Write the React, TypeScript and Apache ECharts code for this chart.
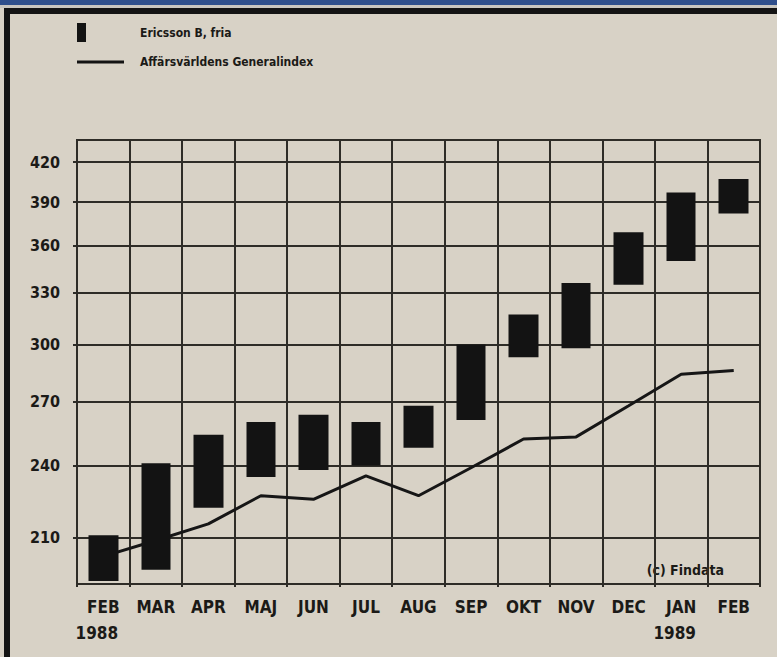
import React, { useEffect, useRef } from "react";
import * as echarts from "echarts";

const months = ["FEB", "MAR", "APR", "MAJ", "JUN", "JUL", "AUG", "SEP", "OKT", "NOV", "DEC", "JAN", "FEB"];
const yearMarks = ["1988", "", "", "", "", "", "", "", "", "", "", "1989", ""];
const categories = months.map((m, i) => m + "-" + i);
const ericssonLow = [194, 198, 222, 235, 238, 240, 248, 261, 293, 298, 335, 350, 382];
const ericssonHigh = [211, 241, 254, 260, 263.5, 260, 268, 300, 317, 336, 369, 397, 407];
const generalIndex = [203, 209, 215.5, 227, 225.5, 235.5, 227, 239, 252, 253, 268, 284, 286];
const yTicks = [210, 240, 270, 300, 330, 360, 390, 420];
const seriesNames = ["Ericsson B, fria", "Affärsvärldens Generalindex"];
const sourceNote = "(c) Findata";

const FONT = '"Liberation Sans Narrow", "DejaVu Sans Condensed", "Liberation Sans", Arial, sans-serif';
const INK = "#1b1a17";
const GRIDC = "#2e2c27";
const PAPER = "#d8d2c6";

export default function App() {
  const ref = useRef<HTMLDivElement>(null);
  useEffect(() => {
    if (!ref.current) return;
    const chart = echarts.init(ref.current, null, { renderer: "svg" });
    chart.setOption({
      animation: false,
      backgroundColor: PAPER,
      grid: {
        left: 77,
        top: 140,
        right: 17,
        bottom: 73,
        show: true,
        borderColor: GRIDC,
        borderWidth: 2,
        backgroundColor: "transparent",
      },
      legend: [
        {
          left: 77,
          top: 23,
          padding: 0,
          itemWidth: 9,
          itemHeight: 19,
          icon: "rect",
          selectedMode: false,
          data: [{ name: seriesNames[0], itemStyle: { color: "#131313" } }],
          textStyle: { fontFamily: FONT, fontWeight: "bold", fontSize: 12, color: INK, padding: [0, 0, 0, 49] },
        },
        {
          left: 77,
          top: 56,
          padding: 0,
          itemWidth: 47,
          itemHeight: 3,
          icon: "rect",
          selectedMode: false,
          data: [{ name: seriesNames[1], itemStyle: { color: "#131313" } }],
          textStyle: { fontFamily: FONT, fontWeight: "bold", fontSize: 12, color: INK, padding: [0, 0, 0, 11] },
        },
      ],
      xAxis: {
        type: "category",
        data: categories,
        boundaryGap: true,
        axisLine: { show: true, lineStyle: { color: GRIDC, width: 2 } },
        axisTick: { show: true, length: 3, lineStyle: { color: GRIDC, width: 2 } },
        splitLine: { show: true, interval: 0, lineStyle: { color: GRIDC, width: 2 } },
        axisLabel: {
          interval: 0,
          margin: 10,
          formatter: (_v: string, i: number) =>
            yearMarks[i] ? "{m|" + months[i] + "}\n{y|" + yearMarks[i] + "}" : "{m|" + months[i] + "}",
          rich: {
            m: { fontFamily: FONT, fontWeight: "bold", fontSize: 17, color: INK, lineHeight: 26 },
            y: { fontFamily: FONT, fontWeight: "bold", fontSize: 17, color: INK, lineHeight: 26, padding: [0, 13, 0, 0] },
          },
        },
      },
      yAxis: {
        type: "log",
        logBase: 10,
        min: 192.9,
        max: 437.4,
        axisLine: { show: true, lineStyle: { color: GRIDC, width: 2 } },
        axisTick: { show: true, length: 4, customValues: yTicks, lineStyle: { color: GRIDC, width: 2 } },
        splitLine: { show: true, lineStyle: { color: GRIDC, width: 2 } },
        axisLabel: {
          customValues: yTicks,
          margin: 17,
          fontFamily: FONT,
          fontWeight: "bold",
          fontSize: 16,
          color: INK,
          verticalAlign: "middle",
          padding: [0, 0, 13, 0],
        },
      },
      series: [
        {
          name: seriesNames[1],
          type: "line",
          data: generalIndex,
          symbol: "none",
          z: 1,
          lineStyle: { color: "#161616", width: 3 },
          itemStyle: { color: "#161616" },
        },
        {
          name: seriesNames[0],
          type: "candlestick",
          z: 3,
          barWidth: 30,
          data: ericssonLow.map((lo, i) => [lo, ericssonHigh[i], lo, ericssonHigh[i]]),
          itemStyle: {
            color: "#131313",
            color0: "#131313",
            borderColor: "#131313",
            borderColor0: "#131313",
            borderWidth: 0,
          },
        },
      ],
      graphic: [
        { type: "rect", shape: { x: 0, y: 0, width: 777, height: 5 }, style: { fill: "#2f4f8c" } },
        { type: "rect", shape: { x: 0, y: 5, width: 777, height: 3 }, style: { fill: "#c9c6c0" } },
        { type: "rect", shape: { x: 4, y: 8, width: 773, height: 6 }, style: { fill: "#141414" } },
        { type: "rect", shape: { x: 4, y: 8, width: 6, height: 649 }, style: { fill: "#141414" } },
        {
          type: "text",
          right: 53,
          top: 563,
          style: { text: sourceNote, fontFamily: FONT, fontWeight: "bold", fontSize: 14, fill: INK },
        },
      ],
    });
    return () => chart.dispose();
  }, []);
  return (
    <div
      ref={ref}
      style={{ position: "absolute", left: 0, top: 0, width: 777, height: 657 }}
    />
  );
}
